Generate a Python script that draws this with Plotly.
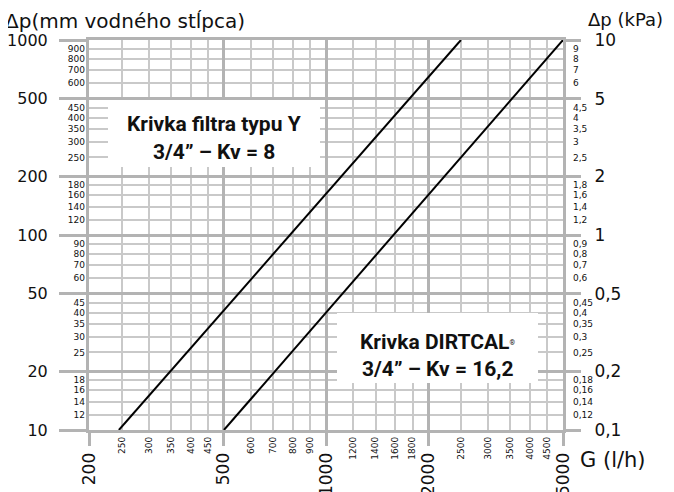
import math
import plotly.graph_objects as go

# ---- data ----
flow_filter_y = [245, 2500]          # l/h
dp_filter_y = [10, 1000]             # mm w.c.
flow_dirtcal = [500, 5000]
dp_dirtcal = [10, 1000]

x_major = [200, 500, 1000, 2000, 5000]
x_major_text = ["200", "500", "1000", "2000", "5000"]
x_minor = [250, 300, 350, 400, 450, 600, 700, 800, 900,
           1200, 1400, 1600, 1800, 2500, 3000, 3500, 4000, 4500]
x_minor_text = [str(v) for v in x_minor]

y_major = [10, 20, 50, 100, 200, 500, 1000]
y_major_text = ["10", "20", "50", "100", "200", "500", "1000"]
y_minor = [12, 14, 16, 18, 25, 30, 35, 40, 45, 60, 70, 80, 90,
           120, 140, 160, 180, 250, 300, 350, 400, 450, 600, 700, 800, 900]
y_minor_text = [str(v) for v in y_minor]

kpa_major = [0.1, 0.2, 0.5, 1, 2, 5, 10]
kpa_major_text = ["0,1", "0,2", "0,5", "1", "2", "5", "10"]
kpa_minor = [0.12, 0.14, 0.16, 0.18, 0.25, 0.3, 0.35, 0.4, 0.45, 0.6, 0.7, 0.8, 0.9,
             1.2, 1.4, 1.6, 1.8, 2.5, 3, 3.5, 4, 4.5, 6, 7, 8, 9]
kpa_minor_text = ["0,12", "0,14", "0,16", "0,18", "0,25", "0,3", "0,35", "0,4", "0,45",
                  "0,6", "0,7", "0,8", "0,9", "1,2", "1,4", "1,6", "1,8", "2,5", "3",
                  "3,5", "4", "4,5", "6", "7", "8", "9"]

XR = [math.log10(200), math.log10(5000)]
YR = [1, 3]
KR = [-1, 1]

MAJ = "#b3b3b3"
MIN = "#c9c9c9"
FONT = "DejaVu Sans"

fig = go.Figure()
fig.add_trace(go.Scatter(x=flow_filter_y, y=dp_filter_y, mode="lines",
                         line=dict(color="black", width=2), showlegend=False,
                         hoverinfo="skip", xaxis="x", yaxis="y"))
fig.add_trace(go.Scatter(x=flow_dirtcal, y=dp_dirtcal, mode="lines",
                         line=dict(color="black", width=2), showlegend=False,
                         hoverinfo="skip", xaxis="x", yaxis="y"))
# invisible helpers for overlay axes
fig.add_trace(go.Scatter(x=[200], y=[10], mode="lines", showlegend=False,
                         hoverinfo="skip", xaxis="x2", yaxis="y3"))
fig.add_trace(go.Scatter(x=[200], y=[0.1], mode="lines", showlegend=False,
                         hoverinfo="skip", xaxis="x", yaxis="y2"))
fig.add_trace(go.Scatter(x=[200], y=[0.1], mode="lines", showlegend=False,
                         hoverinfo="skip", xaxis="x", yaxis="y4"))

fig.update_layout(
    width=674, height=492,
    margin=dict(l=81, r=119, t=32, b=70, autoexpand=False),
    paper_bgcolor="white", plot_bgcolor="white",
    font=dict(family=FONT, color="#111"),
    xaxis=dict(type="log", range=XR, tickvals=x_major, ticktext=x_major_text,
               tickangle=-90, tickfont=dict(size=17, family=FONT),
               ticks="outside", ticklen=13, tickwidth=3, tickcolor=MAJ,
               ticklabelstandoff=0, automargin=False,
               showgrid=True, gridcolor=MAJ, gridwidth=3,
               showline=True, linecolor=MAJ, linewidth=3, mirror=True,
               zeroline=False, fixedrange=True,
               minor=dict(tickvals=x_minor, showgrid=True, gridcolor=MIN, gridwidth=1.5, ticks="")),
    xaxis2=dict(type="log", range=XR, overlaying="x", side="bottom", anchor="y",
                tickvals=x_minor, ticktext=x_minor_text, tickangle=-90,
                tickfont=dict(size=9, family=FONT), ticks="", ticklabelstandoff=4,
                automargin=False,
                showgrid=False, showline=False, zeroline=False),
    yaxis=dict(type="log", range=YR, tickvals=y_major, ticktext=y_major_text,
               tickfont=dict(size=16, family=FONT),
               ticks="outside", ticklen=27, tickwidth=3, tickcolor=MAJ,
               ticklabelstandoff=8, automargin=False,
               showgrid=True, gridcolor=MAJ, gridwidth=3,
               showline=True, linecolor=MAJ, linewidth=3, mirror=True,
               zeroline=False,
               minor=dict(tickvals=y_minor, showgrid=True, gridcolor=MIN, gridwidth=1.5, ticks="")),
    yaxis3=dict(type="log", range=YR, overlaying="y", side="left", anchor="x",
                tickvals=y_minor, ticktext=y_minor_text,
                tickfont=dict(size=9, family=FONT), ticks="", ticklabelstandoff=3,
                automargin=False,
                showgrid=False, showline=False, zeroline=False),
    yaxis2=dict(type="log", range=KR, overlaying="y", side="right", anchor="x",
                tickvals=kpa_major, ticktext=kpa_major_text,
                tickfont=dict(size=17, family=FONT),
                ticks="outside", ticklen=17, tickwidth=3, tickcolor=MAJ,
                ticklabelstandoff=10, automargin=False,
                showgrid=False, showline=False, zeroline=False),
    yaxis4=dict(type="log", range=KR, overlaying="y", side="right", anchor="x",
                tickvals=kpa_minor, ticktext=kpa_minor_text,
                tickfont=dict(size=9, family=FONT), ticks="", ticklabelstandoff=9,
                automargin=False,
                showgrid=False, showline=False, zeroline=False),
    showlegend=False,
)

# white label boxes (paper coords; plot area spans screen px 89..563 x 40..430)
def px2paper(xp, yp):
    return (xp - 89) / 474.0, (430 - yp) / 390.0

for (x0p, y0p, x1p, y1p) in [(108, 100, 320, 167), (337, 313, 538, 383)]:
    a, b = px2paper(x0p, y1p)
    c, d = px2paper(x1p, y0p)
    fig.add_shape(type="rect", xref="paper", yref="paper", x0=a, y0=b, x1=c, y1=d,
                  fillcolor="white", line=dict(width=0), layer="above")

box_font = dict(family="Roboto", size=21, color="#111")
labels = [
    (214, 124, "<b>Krivka filtra typu Y</b>"),
    (214, 152, "<b>3/4” – Kv = 8</b>"),
    (437, 342, "<b>Krivka DIRTCAL</b><span style='font-size:10px'><sup>®</sup></span>"),
    (437, 369, "<b>3/4” – Kv = 16,2</b>"),
]
for xp, yp, t in labels:
    px, py = px2paper(xp, yp)
    fig.add_annotation(x=px, y=py, xref="paper", yref="paper", text=t, showarrow=False,
                       font=box_font, xanchor="center", yanchor="middle")

# axis titles (pixel positions converted to paper)
titles = [
    (4, 8, "Δp(mm vodného stĺpca)", 20),
    (587, 8, "Δp (kPa)", 18),
]
for xp, yp, t, s in titles:
    px, py = px2paper(xp, yp)
    fig.add_annotation(x=px, y=py, xref="paper", yref="paper", text=t,
                       showarrow=False, font=dict(family=FONT, size=s, color="#111"),
                       xanchor="left", yanchor="top", borderpad=0)
gx, gy = px2paper(578, 460)
fig.add_annotation(x=gx, y=gy, xref="paper", yref="paper", text="G (l/h)",
                   showarrow=False, font=dict(family=FONT, size=21, color="#111"),
                   xanchor="left", yanchor="middle")

fig.write_html("out.html")
